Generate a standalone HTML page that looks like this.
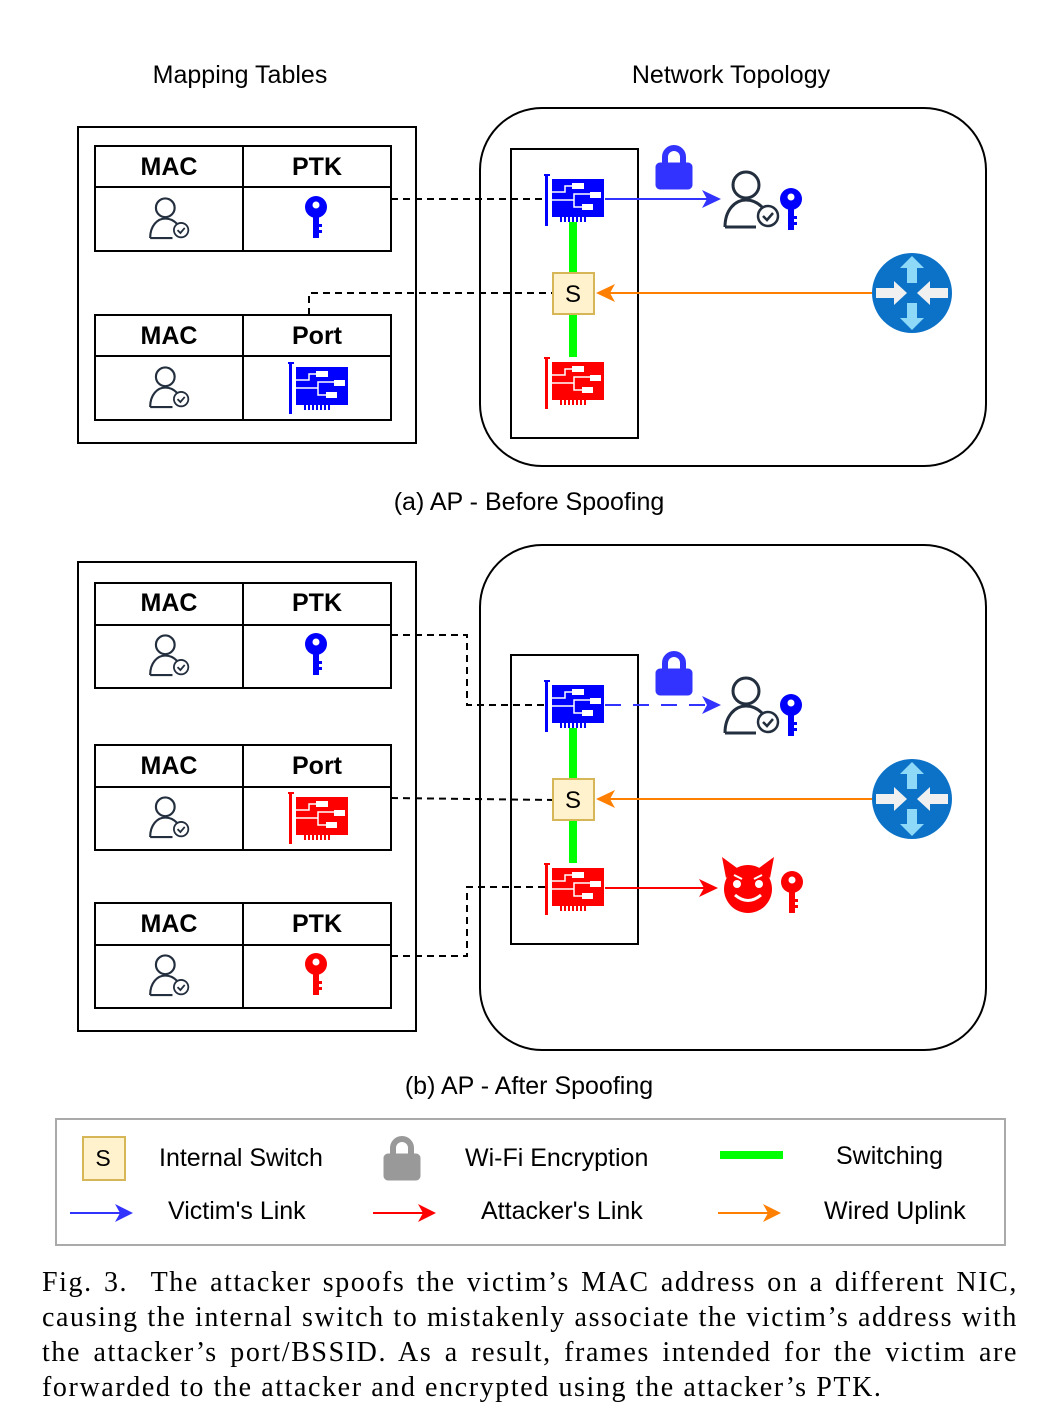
<!DOCTYPE html>
<html><head><meta charset="utf-8"><style>
body{margin:0;background:#fff;width:1047px;height:1424px;overflow:hidden;position:relative}
svg{position:absolute;left:0;top:0}
text{font-family:"Liberation Sans",sans-serif}
.cap{position:absolute;left:42px;top:1265px;width:976px;font-family:"Liberation Serif",serif;font-size:28px;letter-spacing:1.6px;line-height:35px;color:#000}
.cap div{text-align:justify;text-align-last:justify;white-space:nowrap}
.cap div.l{text-align-last:left}
</style></head><body>
<svg width="1047" height="1424" viewBox="0 0 1047 1424">
<defs>
<g id="nic">
<rect x="1" y="0" width="3" height="52"/><rect x="0" y="0" width="6" height="2"/>
<rect x="8" y="5" width="52" height="38"/>
<g><rect x="16" y="43" width="2" height="5"/><rect x="20" y="43" width="2" height="5"/><rect x="24" y="43" width="2" height="5"/><rect x="28" y="43" width="2" height="5"/><rect x="32" y="43" width="2" height="5"/><rect x="36" y="43" width="2" height="5"/><rect x="40" y="43" width="2" height="5"/></g>
<g fill="#fff"><rect x="28" y="9" width="12" height="6"/><rect x="46" y="18" width="11" height="6"/><rect x="38" y="30" width="11" height="6"/></g>
<path d="M8,18H21V12H28M8,26H30V20H46M30,26V33H38" stroke="#fff" stroke-width="1.5" fill="none"/>
</g>
<g id="key">
<circle cx="11" cy="11" r="11"/><circle cx="11" cy="9" r="3.5" fill="#fff"/>
<rect x="8" y="18" width="6" height="24"/><rect x="13" y="28" width="4" height="3"/><rect x="13" y="34" width="4" height="3"/>
</g>
<g id="user" fill="none" stroke="#232f3e" stroke-width="3">
<circle cx="24" cy="15" r="13"/>
<path d="M3,57C3,40 13,30 24,30C31,30 36,33 40,37M3,57H34"/>
<circle cx="46" cy="46" r="10" stroke-width="2.5"/>
<path d="M41,46l4,4l6,-7" stroke-width="2.5"/>
</g>
<g id="lock">
<path d="M9,22V14a9,9 0 0 1 18,0V22" fill="none" stroke-width="6"/>
<rect x="0" y="20" width="36" height="26" rx="4"/>
</g>
<g id="router">
<circle cx="0" cy="0" r="40" fill="#0b72c8"/>
<path d="M0,-37L-12,-25H-5V-10H5V-25H12Z M0,37L-12,25H-5V10H5V25H12Z" fill="#8ed8f8"/>
<path d="M-36,-5H-18V-12L-5,0L-18,12V5H-36Z M36,-5H18V-12L5,0L18,12V5H36Z" fill="#f0f0f0"/>
</g>
</defs>

<text x="240" y="83" font-size="25" text-anchor="middle">Mapping Tables</text>
<text x="731" y="83" font-size="25" text-anchor="middle">Network Topology</text>

<!-- PART A -->
<rect x="78" y="127" width="338" height="316" fill="none" stroke="#000" stroke-width="2"/>
<g fill="none" stroke="#000" stroke-width="2">
<rect x="95" y="146" width="296" height="105"/><line x1="95" y1="187" x2="391" y2="187"/><line x1="243" y1="146" x2="243" y2="251"/>
<rect x="95" y="315" width="296" height="105"/><line x1="95" y1="356" x2="391" y2="356"/><line x1="243" y1="315" x2="243" y2="420"/>
</g>
<g font-size="25" font-weight="bold" text-anchor="middle">
<text x="169" y="175">MAC</text><text x="317" y="175">PTK</text>
<text x="169" y="344">MAC</text><text x="317" y="344">Port</text>
</g>
<use href="#user" transform="translate(148,197) scale(0.72)"/>
<use href="#key" fill="#0000ff" transform="translate(305,196)"/>
<use href="#user" transform="translate(148,366) scale(0.72)"/>
<use href="#nic" fill="#0000ff" transform="translate(288,362)"/>

<rect x="480" y="108" width="506" height="358" rx="62" fill="none" stroke="#000" stroke-width="2"/>
<rect x="511" y="149" width="127" height="289" fill="none" stroke="#000" stroke-width="2"/>
<g stroke="#000" stroke-width="2" stroke-dasharray="7,5" fill="none">
<path d="M391,199H546"/><path d="M309,315V293H553"/>
</g>
<line x1="573" y1="222" x2="573" y2="357" stroke="#00ff00" stroke-width="8"/>
<use href="#nic" fill="#0000ff" transform="translate(544,174)"/>
<use href="#nic" fill="#ff0000" transform="translate(544,357)"/>
<rect x="553" y="273" width="41" height="41" fill="#fff2cc" stroke="#d6b656" stroke-width="2"/>
<text x="573" y="302" font-size="24" text-anchor="middle">S</text>
<line x1="605" y1="199" x2="708" y2="199" stroke="#3333ff" stroke-width="2"/>
<path d="M721,199L702,190L707,199L702,208Z" fill="#3333ff"/>
<use href="#lock" fill="#3333ff" stroke="#3333ff" transform="translate(656,143)"/>
<use href="#user" transform="translate(722,170)"/>
<use href="#key" fill="#0000ff" transform="translate(780,188)"/>
<line x1="872" y1="293" x2="608" y2="293" stroke="#ff8000" stroke-width="2"/>
<path d="M596,293L615,284L610,293L615,302Z" fill="#ff8000"/>
<use href="#router" transform="translate(912,293)"/>
<text x="529" y="510" font-size="25" text-anchor="middle">(a) AP - Before Spoofing</text>

<!-- PART B -->
<rect x="78" y="562" width="338" height="469" fill="none" stroke="#000" stroke-width="2"/>
<g fill="none" stroke="#000" stroke-width="2">
<rect x="95" y="583" width="296" height="105"/><line x1="95" y1="625" x2="391" y2="625"/><line x1="243" y1="583" x2="243" y2="688"/>
<rect x="95" y="745" width="296" height="105"/><line x1="95" y1="787" x2="391" y2="787"/><line x1="243" y1="745" x2="243" y2="850"/>
<rect x="95" y="903" width="296" height="105"/><line x1="95" y1="945" x2="391" y2="945"/><line x1="243" y1="903" x2="243" y2="1008"/>
</g>
<g font-size="25" font-weight="bold" text-anchor="middle">
<text x="169" y="611">MAC</text><text x="317" y="611">PTK</text>
<text x="169" y="774">MAC</text><text x="317" y="774">Port</text>
<text x="169" y="932">MAC</text><text x="317" y="932">PTK</text>
</g>
<use href="#user" transform="translate(148,634) scale(0.72)"/>
<use href="#key" fill="#0000ff" transform="translate(305,633)"/>
<use href="#user" transform="translate(148,796) scale(0.72)"/>
<use href="#nic" fill="#ff0000" transform="translate(288,792)"/>
<use href="#user" transform="translate(148,954) scale(0.72)"/>
<use href="#key" fill="#ff0000" transform="translate(305,953)"/>

<rect x="480" y="545" width="506" height="505" rx="62" fill="none" stroke="#000" stroke-width="2"/>
<rect x="511" y="655" width="127" height="289" fill="none" stroke="#000" stroke-width="2"/>
<g stroke="#000" stroke-width="2" stroke-dasharray="7,5" fill="none">
<path d="M391,635H467V705H546"/><path d="M391,798L553,800"/><path d="M391,956H467V887H546"/>
</g>
<line x1="573" y1="728" x2="573" y2="863" stroke="#00ff00" stroke-width="8"/>
<use href="#nic" fill="#0000ff" transform="translate(544,680)"/>
<use href="#nic" fill="#ff0000" transform="translate(544,863)"/>
<rect x="553" y="779" width="41" height="41" fill="#fff2cc" stroke="#d6b656" stroke-width="2"/>
<text x="573" y="808" font-size="24" text-anchor="middle">S</text>
<line x1="605" y1="705" x2="708" y2="705" stroke="#3333ff" stroke-width="2" stroke-dasharray="16,12"/>
<path d="M721,705L702,696L707,705L702,714Z" fill="#3333ff"/>
<use href="#lock" fill="#3333ff" stroke="#3333ff" transform="translate(656,649)"/>
<use href="#user" transform="translate(722,676)"/>
<use href="#key" fill="#0000ff" transform="translate(780,694)"/>
<line x1="605" y1="888" x2="705" y2="888" stroke="#ff0000" stroke-width="2"/>
<path d="M718,888L699,879L704,888L699,897Z" fill="#ff0000"/>
<g fill="#ff0000">
<circle cx="748" cy="889" r="24"/>
<path d="M726,878L722,857L737,868Z M770,878L774,857L759,868Z"/>
<circle cx="737" cy="884" r="4" fill="#fff"/><circle cx="759" cy="884" r="4" fill="#fff"/>
<path d="M734,875l8,4M762,875l-8,4" stroke="#fff" stroke-width="2"/>
<path d="M735,895Q748,906 761,895" stroke="#fff" stroke-width="3" fill="none"/>
</g>
<use href="#key" fill="#ff0000" transform="translate(781,871)"/>
<line x1="872" y1="799" x2="608" y2="799" stroke="#ff8000" stroke-width="2"/>
<path d="M596,799L615,790L610,799L615,808Z" fill="#ff8000"/>
<use href="#router" transform="translate(912,799)"/>
<text x="529" y="1094" font-size="25" text-anchor="middle">(b) AP - After Spoofing</text>

<!-- LEGEND -->
<rect x="56" y="1119" width="949" height="126" fill="none" stroke="#aaa" stroke-width="2"/>
<rect x="83" y="1137" width="42" height="43" fill="#fff2cc" stroke="#d6b656" stroke-width="2"/>
<text x="103" y="1166" font-size="23" text-anchor="middle">S</text>
<text x="159" y="1166" font-size="25">Internal Switch</text>
<use href="#lock" fill="#999" stroke="#999" transform="translate(384,1134)"/>
<text x="465" y="1166" font-size="25">Wi-Fi Encryption</text>
<line x1="720" y1="1155" x2="783" y2="1155" stroke="#00ff00" stroke-width="8"/>
<text x="836" y="1164" font-size="25">Switching</text>
<line x1="70" y1="1213" x2="122" y2="1213" stroke="#3333ff" stroke-width="2"/>
<path d="M133,1213L115,1204L120,1213L115,1222Z" fill="#3333ff"/>
<text x="168" y="1219" font-size="25">Victim's Link</text>
<line x1="373" y1="1213" x2="425" y2="1213" stroke="#ff0000" stroke-width="2"/>
<path d="M436,1213L418,1204L423,1213L418,1222Z" fill="#ff0000"/>
<text x="481" y="1219" font-size="25">Attacker's Link</text>
<line x1="718" y1="1213" x2="770" y2="1213" stroke="#ff8000" stroke-width="2"/>
<path d="M781,1213L763,1204L768,1213L763,1222Z" fill="#ff8000"/>
<text x="824" y="1219" font-size="25">Wired Uplink</text>
</svg>
<div class="cap">
<div>Fig. 3.&nbsp;&nbsp;The attacker spoofs the victim’s MAC address on a different NIC,</div>
<div>causing the internal switch to mistakenly associate the victim’s address with</div>
<div>the attacker’s port/BSSID. As a result, frames intended for the victim are</div>
<div class="l">forwarded to the attacker and encrypted using the attacker’s PTK.</div>
</div>
</body></html>
